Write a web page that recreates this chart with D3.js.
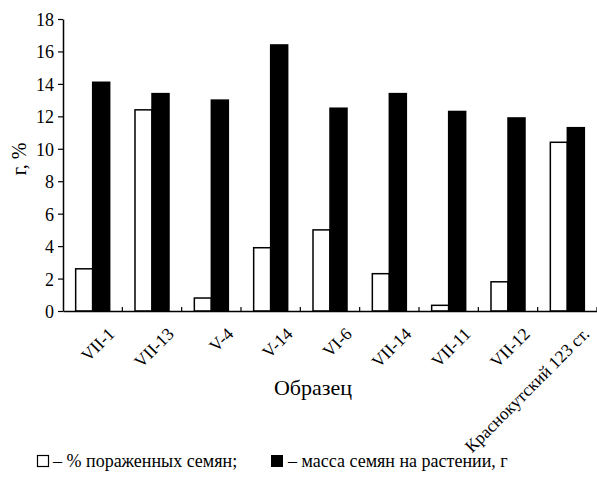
<!DOCTYPE html>
<html>
<head>
<meta charset="utf-8">
<script src="https://cdn.jsdelivr.net/npm/d3@7"></script>
<style>
  html, body { margin: 0; padding: 0; background: #fff; }
</style>
</head>
<body>
<svg id="chart" width="597" height="487"></svg>
<script>
// Samples (образцы)
const categories = ["VII-1", "VII-13", "V-4", "V-14", "VI-6", "VII-14", "VII-11", "VII-12", "Краснокутский 123 ст."];
// % of infected seeds
const infectedPct = [2.6, 12.4, 0.8, 3.9, 5.0, 2.3, 0.35, 1.8, 10.4];
// seed mass per plant, g
const seedMass = [14.1, 13.4, 13.0, 16.4, 12.5, 13.4, 12.3, 11.9, 11.3];
const seriesKeys = ["infected", "mass"];
const seriesNames = ["% пораженных семян;", "масса семян на растении, г"];
const yTicks = [0, 2, 4, 6, 8, 10, 12, 14, 16, 18];

const FONT = "Liberation Serif, Times New Roman, serif";
const svg = d3.select("#chart");
const plotLeft = 63, plotRight = 597, plotTop = 19, plotBottom = 311;

const x0 = d3.scaleBand().domain(categories).range([plotLeft, plotRight]).paddingInner(0).paddingOuter(0);
const x1 = d3.scaleBand().domain(seriesKeys).range([0, x0.bandwidth()]).paddingInner(0).paddingOuter(0.745);
const y = d3.scaleLinear().domain([0, 18]).range([plotBottom, plotTop]);

const rows = categories.map((c, i) => ({ cat: c, infected: infectedPct[i], mass: seedMass[i] }));

// bars
const groups = svg.append("g").selectAll("g").data(rows).join("g")
  .attr("transform", d => `translate(${x0(d.cat)},0)`);
groups.selectAll("rect").data(d => seriesKeys.map(k => ({ key: k, value: d[k] }))).join("rect")
  .attr("x", d => x1(d.key))
  .attr("y", d => y(d.value))
  .attr("width", x1.bandwidth())
  .attr("height", d => y(0) - y(d.value))
  .attr("fill", d => d.key === "infected" ? "#fff" : "#000")
  .attr("stroke", "#000")
  .attr("stroke-width", 1.5);

// y axis
const yAxis = svg.append("g").attr("transform", `translate(${plotLeft},0)`)
  .call(d3.axisLeft(y).tickValues(yTicks).tickSize(5).tickSizeOuter(0).tickFormat(d3.format("d")));
yAxis.attr("font-family", FONT).attr("font-size", 18);
yAxis.select(".domain").attr("stroke", "#000").attr("stroke-width", 1.5);
yAxis.selectAll(".tick line").attr("stroke", "#000").attr("stroke-width", 1.2);
yAxis.selectAll(".tick text").attr("x", -9).attr("dy", "0.36em").attr("fill", "#000");

// x axis line with category separator ticks pointing up
const xAxis = svg.append("g").attr("transform", `translate(0,${plotBottom})`)
  .call(d3.axisBottom(x0).tickSize(0).tickSizeOuter(0).tickFormat(""));
xAxis.select(".domain").attr("stroke", "#000").attr("stroke-width", 1.5);
xAxis.selectAll(".tick").remove();
svg.append("g").selectAll("line").data(categories).join("line")
  .attr("x1", d => x0(d) + x0.bandwidth())
  .attr("x2", d => x0(d) + x0.bandwidth())
  .attr("y1", plotBottom).attr("y2", plotBottom - 4)
  .attr("stroke", "#000").attr("stroke-width", 1.2);

// text layers
const txt = svg.append("g").attr("font-family", FONT);

// rotated category labels
txt.append("g").attr("font-size", 17.5).selectAll("text").data(categories).join("text")
  .attr("transform", d => `translate(${x0(d) + x0.bandwidth() / 2 + 23},${plotBottom + 24}) rotate(-45)`)
  .attr("text-anchor", "end")
  .text(d => d);

// axis titles
txt.append("text")
  .attr("x", 313).attr("y", 395)
  .attr("text-anchor", "middle")
  .attr("font-size", 22)
  .text("Образец");
txt.append("text")
  .attr("transform", "translate(26,159) rotate(-90)")
  .attr("text-anchor", "middle")
  .attr("font-size", 20)
  .text("г, %");

// legend
const lg = svg.append("g").attr("font-family", FONT).attr("font-size", 18);
lg.append("rect").attr("x", 37.5).attr("y", 455.5).attr("width", 11).attr("height", 11)
  .attr("fill", "#fff").attr("stroke", "#000").attr("stroke-width", 1.2);
lg.append("text").attr("x", 53).attr("y", 467).text("– " + seriesNames[0]);
lg.append("rect").attr("x", 271).attr("y", 455).attr("width", 12).attr("height", 12).attr("fill", "#000");
lg.append("text").attr("x", 288).attr("y", 467).text("– " + seriesNames[1]);
</script>
</body>
</html>
